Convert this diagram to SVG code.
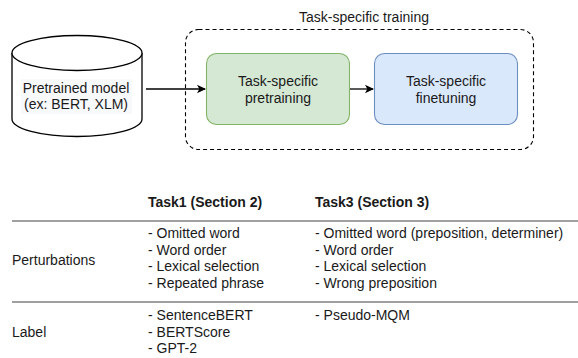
<svg xmlns="http://www.w3.org/2000/svg" width="578" height="358" viewBox="0 0 578 358">
<style>
text{font-family:"Liberation Sans",Arial,Helvetica,sans-serif;font-size:14px;fill:#1a1a1a}
.c{text-anchor:middle}
.b{font-weight:bold}
.edge{stroke:#000;stroke-width:1.3;fill:none}
.rule{stroke:#808080;stroke-width:1.3}
</style>
<defs>
<marker id="arr" markerWidth="10" markerHeight="10" refX="8" refY="5" orient="auto" markerUnits="userSpaceOnUse">
<path d="M0,0.8 L9,5 L0,9.2 L2.3,5 Z" fill="#000"/>
</marker>
</defs>
<rect width="578" height="358" fill="#fff"/>
<g id="group-training">
<rect x="185.5" y="29.5" width="348" height="120" rx="13" fill="none" stroke="#000" stroke-width="1.1" stroke-dasharray="4,3"/>
<text class="c" x="364" y="22">Task-specific training</text>
</g>
<g id="pretrained">
<path d="M12,53 L12,119 A65,17.5 0 0 0 142,119 L142,53" fill="#fff" stroke="#000" stroke-width="1.3"/>
<ellipse cx="77" cy="53" rx="65" ry="17.5" fill="#fff" stroke="#000" stroke-width="1.3"/>
<rect x="21" y="79" width="111" height="35" fill="#f8f9fa"/>
<text class="c" x="76" y="93">Pretrained model</text>
<text class="c" x="76" y="109">(ex: BERT, XLM)</text>
</g>
<g id="pretraining">
<rect x="206.5" y="53.5" width="143" height="71" rx="10" fill="#d5e8d4" stroke="#82b366" stroke-width="1.1"/>
<text class="c" x="278" y="86">Task-specific</text>
<text class="c" x="278" y="103">pretraining</text>
</g>
<g id="finetuning">
<rect x="374.5" y="53.5" width="143" height="71" rx="10" fill="#dae8fc" stroke="#6c8ebf" stroke-width="1.1"/>
<text class="c" x="446" y="86">Task-specific</text>
<text class="c" x="446" y="103">finetuning</text>
</g>
<g id="connectors">
<line class="edge" x1="146" y1="89" x2="205" y2="89" marker-end="url(#arr)"/>
<line class="edge" x1="350" y1="89" x2="373" y2="89" marker-end="url(#arr)"/>
</g>
<g id="table">
<text class="b" x="148" y="207">Task1 (Section 2)</text>
<text class="b" x="315" y="207">Task3 (Section 3)</text>
<line class="rule" x1="12" y1="221" x2="578" y2="221"/>
<text x="12" y="265">Perturbations</text>
<text x="148" y="238">- Omitted word</text>
<text x="148" y="254.5">- Word order</text>
<text x="148" y="271">- Lexical selection</text>
<text x="148" y="287.5">- Repeated phrase</text>
<text x="315" y="238">- Omitted word (preposition, determiner)</text>
<text x="315" y="254.5">- Word order</text>
<text x="315" y="271">- Lexical selection</text>
<text x="315" y="287.5">- Wrong preposition</text>
<line class="rule" x1="12" y1="302" x2="578" y2="302"/>
<text x="12" y="337">Label</text>
<text x="148" y="320">- SentenceBERT</text>
<text x="148" y="336.5">- BERTScore</text>
<text x="148" y="353">- GPT-2</text>
<text x="315" y="320">- Pseudo-MQM</text>
</g>
</svg>
